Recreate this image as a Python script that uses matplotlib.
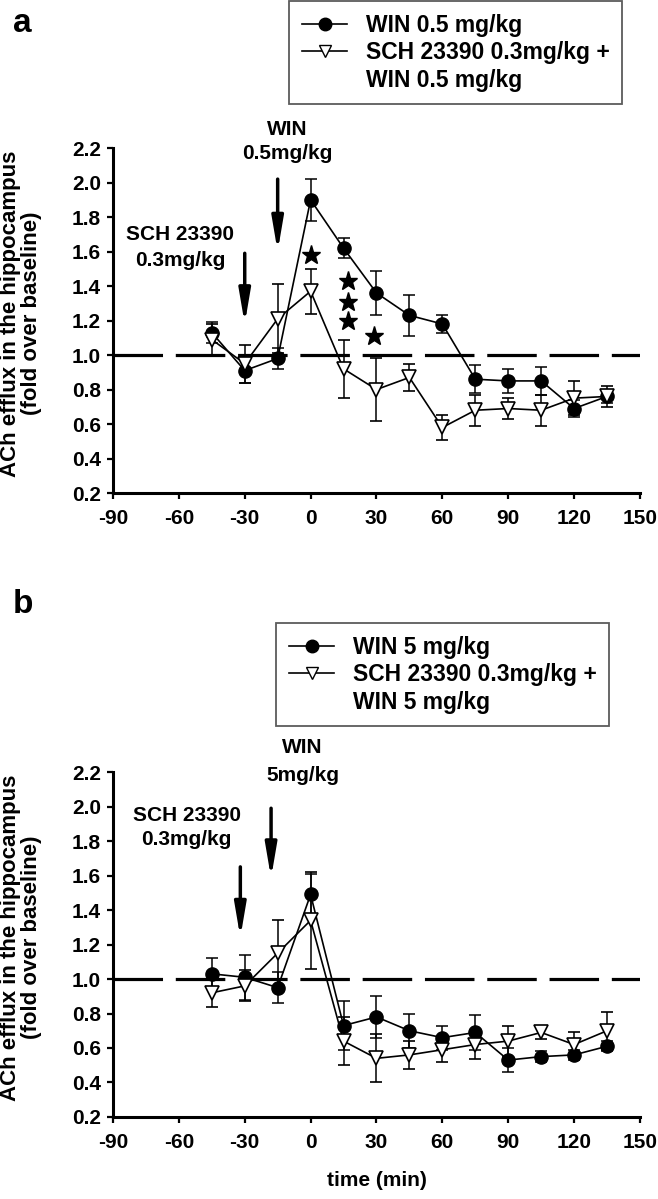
import numpy as np
import matplotlib.pyplot as plt
from matplotlib.lines import Line2D

plt.rcParams['font.family'] = ['Liberation Sans', 'DejaVu Sans']
plt.rcParams['font.weight'] = 'bold'

# sampling times (min)
time = [-45, -30, -15, 0, 15, 30, 45, 60, 75, 90, 105, 120, 135]

# panel a : WIN 0.5 mg/kg
win_a = [1.13, 0.91, 0.98, 1.90, 1.62, 1.36, 1.23, 1.18, 0.86, 0.85, 0.85, 0.69, 0.76]
win_a_err = [0.06, 0.07, 0.06, 0.12, 0.06, 0.13, 0.12, 0.05, 0.08, 0.07, 0.08, 0.05, 0.04]
sch_a = [1.09, 0.95, 1.21, 1.37, 0.92, 0.80, 0.87, 0.58, 0.68, 0.69, 0.68, 0.75, 0.76]
sch_a_err = [0.09, 0.11, 0.20, 0.13, 0.17, 0.18, 0.08, 0.07, 0.09, 0.06, 0.09, 0.10, 0.06]
star_x = [0, 17, 17, 17, 29]
star_y = [1.58, 1.43, 1.31, 1.20, 1.11]

# panel b : WIN 5 mg/kg
win_b = [1.03, 1.01, 0.95, 1.49, 0.73, 0.78, 0.70, 0.66, 0.69, 0.53, 0.55, 0.56, 0.61]
win_b_err = [0.09, 0.13, 0.09, 0.12, 0.14, 0.12, 0.10, 0.07, 0.10, 0.07, 0.03, 0.03, 0.03]
sch_b = [0.92, 0.96, 1.15, 1.34, 0.64, 0.54, 0.56, 0.59, 0.62, 0.64, 0.69, 0.62, 0.70]
sch_b_err = [0.08, 0.09, 0.19, 0.28, 0.14, 0.14, 0.08, 0.07, 0.085, 0.09, 0.04, 0.07, 0.11]

xticks = [-90, -60, -30, 0, 30, 60, 90, 120, 150]
yticks = [0.2, 0.4, 0.6, 0.8, 1.0, 1.2, 1.4, 1.6, 1.8, 2.0, 2.2]

FS = 15


def setup_axis(ax):
    ax.set_xlim(-90, 150)
    ax.set_ylim(0.2, 2.2)
    ax.set_xticks(xticks)
    ax.set_yticks(yticks)
    ax.set_yticklabels(['%.1f' % v for v in yticks])
    ax.set_xticklabels([str(v) for v in xticks])
    for s in ('top', 'right'):
        ax.spines[s].set_visible(False)
    for s in ('left', 'bottom'):
        ax.spines[s].set_linewidth(2.2)
    ax.tick_params(axis='both', direction='out', length=4.5, width=1.6, labelsize=FS)
    ax.tick_params(axis='y', pad=4)
    ax.tick_params(axis='x', pad=7)
    ax.set_ylabel('ACh efflux in the hippocampus\n(fold over baseline)', fontsize=16,
                  fontweight='bold', linespacing=1.0)
    ax.yaxis.set_label_coords(-0.135, 0.52)
    # baseline
    base = ax.axhline(1.0, color='k', lw=2.3, zorder=1)
    base.set_dashes((15.5, 4))


def plot_series(ax, win, win_err, sch, sch_err):
    ax.errorbar(time, win, yerr=win_err, fmt='o-', color='k', mfc='k', mec='k', ms=9.5,
                lw=1.2, elinewidth=1.1, capsize=4, capthick=1.1, zorder=3)
    ax.errorbar(time, sch, yerr=sch_err, fmt='v-', color='k', mfc='white', mec='k', ms=10.5,
                mew=1.2, lw=1.2, elinewidth=1.1, capsize=4, capthick=1.1, zorder=4)


def arrow(ax, x, y0, y1):
    ax.annotate('', xy=(x, y1), xytext=(x, y0), annotation_clip=False,
                arrowprops=dict(arrowstyle='-|>,head_length=1.0,head_width=0.17',
                                mutation_scale=20, lw=2.5, color='k',
                                shrinkA=0, shrinkB=0))


def legend(ax, lab1, lab2, lab3, anchor):
    handles = [Line2D([0], [0], marker='o', color='k', mfc='k', ms=9, lw=1.2),
               Line2D([0], [0], marker='v', color='k', mfc='white', ms=9, lw=1.2),
               Line2D([0], [0], color='none')]
    leg = ax.legend(handles, [lab1, lab2, lab3], loc='upper left', bbox_to_anchor=anchor,
                    bbox_transform=ax.figure.transFigure, fontsize=16.5, frameon=True,
                    fancybox=False, edgecolor='#333333', handlelength=2.0,
                    handletextpad=0.8, labelspacing=0.2, borderpad=0.55, borderaxespad=0)
    leg.get_frame().set_linewidth(1.3)
    for t in leg.get_texts():
        t.set_fontweight('bold')


fig = plt.figure(figsize=(6.58, 11.99), dpi=100)
ax_a = fig.add_axes([0.1717, 0.5888, 0.8009, 0.2877])
ax_b = fig.add_axes([0.1717, 0.0684, 0.8009, 0.2877])

# panel a
setup_axis(ax_a)
plot_series(ax_a, win_a, win_a_err, sch_a, sch_a_err)
ax_a.plot(star_x, star_y, ls='none', marker='*', color='k', ms=14, zorder=5)
arrow(ax_a, -30, 1.59, 1.18)
arrow(ax_a, -15, 2.02, 1.60)
ax_a.text(-59.5, 1.70, 'SCH 23390', ha='center', va='center', fontsize=FS, fontweight='bold')
ax_a.text(-59.5, 1.55, '0.3mg/kg', ha='center', va='center', fontsize=FS, fontweight='bold')
ax_a.text(-10.5, 2.31, 'WIN', ha='center', va='center', fontsize=FS, fontweight='bold',
          clip_on=False)
ax_a.text(-10.5, 2.17, '0.5mg/kg', ha='center', va='center', fontsize=FS, fontweight='bold',
          clip_on=False)
legend(ax_a, 'WIN 0.5 mg/kg', 'SCH 23390 0.3mg/kg +', 'WIN 0.5 mg/kg', (289 / 658, 1 - 1 / 1199))

# panel b
setup_axis(ax_b)
plot_series(ax_b, win_b, win_b_err, sch_b, sch_b_err)
arrow(ax_b, -32, 1.65, 1.24)
arrow(ax_b, -18, 1.99, 1.585)
ax_b.text(-56.5, 1.95, 'SCH 23390', ha='center', va='center', fontsize=FS, fontweight='bold')
ax_b.text(-56.5, 1.81, '0.3mg/kg', ha='center', va='center', fontsize=FS, fontweight='bold')
ax_b.text(-3.6, 2.34, 'WIN', ha='center', va='center', fontsize=FS, fontweight='bold',
          clip_on=False)
ax_b.text(-3.6, 2.18, '5mg/kg', ha='center', va='center', fontsize=FS, fontweight='bold',
          clip_on=False)
ax_b.set_xlabel('time (min)', fontsize=FS, fontweight='bold', labelpad=14)
legend(ax_b, 'WIN 5 mg/kg', 'SCH 23390 0.3mg/kg +', 'WIN 5 mg/kg', (276 / 658, 1 - 623 / 1199))

fig.text(13 / 658, 1 - 32 / 1199, 'a', fontsize=24, fontweight='bold')
fig.text(13 / 658, 1 - 613 / 1199, 'b', fontsize=24, fontweight='bold')

fig.savefig('out.png', dpi=100)
